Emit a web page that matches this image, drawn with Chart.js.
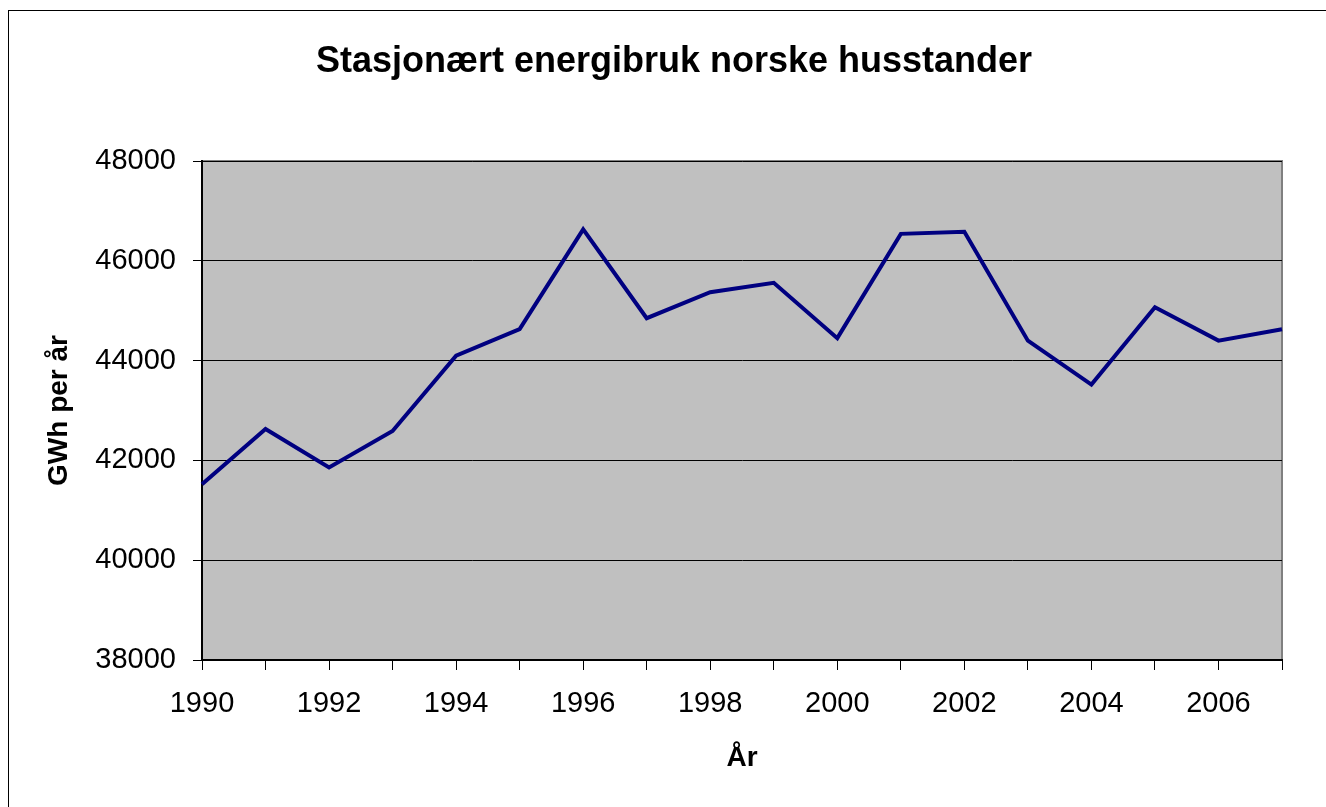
<!DOCTYPE html>
<html>
<head>
<meta charset="utf-8">
<script src="https://cdn.jsdelivr.net/npm/chart.js@4/dist/chart.umd.min.js"></script>
<style>
	html, body { margin: 0; padding: 0; background: #fff; overflow: hidden; }
	#wrap { position: relative; width: 1326px; height: 807px; overflow: hidden; }
	#frame { position: absolute; left: 8px; top: 10px; width: 1400px; height: 900px; border-left: 1px solid #000; border-top: 1px solid #000; }
	#chart { position: absolute; left: 0; top: 0; }
</style>
</head>
<body>
<div id="wrap">
	<div id="frame"></div>
	<canvas id="chart" width="1348" height="807"></canvas>
</div>
<script>
const YEARS = ['1990', '1991', '1992', '1993', '1994', '1995', '1996', '1997', '1998',
	'1999', '2000', '2001', '2002', '2003', '2004', '2005', '2006', '2007'];
const GWH = [41520, 42630, 41860, 42590, 44100, 44630, 46630, 44850, 45370,
	45560, 44450, 46540, 46580, 44400, 43520, 45070, 44400, 44630];
const Y_MIN = 38000;
const Y_MAX = 48000;
const Y_STEP = 2000;

const FONT = 'Arial, "Liberation Sans", sans-serif';

// grey plot background + grey top/right edges, like the old excel chart
const plotArea = {
	id: 'plotArea',
	beforeDraw(chart) {
		const { ctx, chartArea: a } = chart;
		ctx.save();
		ctx.fillStyle = '#c0c0c0';
		ctx.fillRect(a.left, a.top, a.right - a.left, a.bottom - a.top);
		ctx.strokeStyle = '#808080';
		ctx.lineWidth = 2;
		ctx.beginPath();
		ctx.moveTo(a.left, a.top);
		ctx.lineTo(a.right, a.top);
		ctx.lineTo(a.right, a.bottom);
		ctx.stroke();
		ctx.restore();
	},
};

const ctx = document.getElementById('chart').getContext('2d');
new Chart(ctx, {
	type: 'line',
	data: {
		labels: YEARS,
		datasets: [{
			label: 'GWh',
			data: GWH,
			borderColor: '#000080',
			borderWidth: 4,
			pointRadius: 0,
			tension: 0,
			fill: false,
		}],
	},
	options: {
		responsive: false,
		animation: false,
		// left padding keeps the title centred where the original had it
		layout: { padding: { left: 66, right: 66, top: 0, bottom: 0 } },
		plugins: {
			legend: { display: false },
			tooltip: { enabled: false },
			title: {
				display: true,
				text: 'Stasjonært energibruk norske husstander',
				color: '#000',
				font: { family: FONT, size: 36, weight: 'bold', lineHeight: 1.2 },
				padding: { top: 40, bottom: 77.8 },
			},
		},
		scales: {
			x: {
				offset: false,
				grid: { display: true, drawOnChartArea: false, drawTicks: true, tickLength: 10, color: '#000' },
				border: { display: true, color: '#000', width: 2 },
				ticks: {
					autoSkip: false,
					maxRotation: 0,
					padding: 17,
					color: '#000',
					font: { family: FONT, size: 29 },
					callback: (v, i) => (i % 2 === 0 ? YEARS[i] : ''),
				},
				title: {
					display: true,
					text: 'År',
					color: '#000',
					font: { family: FONT, size: 28, weight: 'bold', lineHeight: 1.2 },
					padding: { top: 0, bottom: 32 },
				},
				afterFit: (s) => { s.height = 147; },
			},
			y: {
				min: Y_MIN,
				max: Y_MAX,
				grid: { color: '#000', lineWidth: 1, drawTicks: true, tickLength: 9 },
				border: { display: true, color: '#000', width: 2 },
				ticks: {
					stepSize: Y_STEP,
					padding: 17,
					color: '#000',
					font: { family: FONT, size: 29 },
					callback: (v) => String(v),
				},
				title: {
					display: true,
					text: 'GWh per år',
					color: '#000',
					font: { family: FONT, size: 28, weight: 'bold', lineHeight: 1.2 },
					padding: { top: -24, bottom: 0 },
				},
				afterFit: (s) => { s.width = 136; },
			},
		},
	},
	plugins: [plotArea],
});
</script>
</body>
</html>
